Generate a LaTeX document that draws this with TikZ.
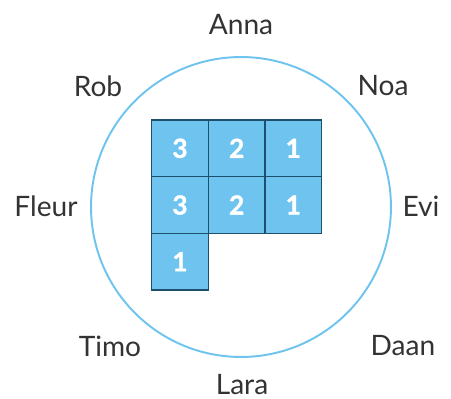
\documentclass[tikz,border=0pt]{standalone}
\usepackage{fontspec}
\setmainfont{Lato}
\newfontfamily\cellfont[FakeBold=1.2]{Lato}
\usepackage{xcolor}
\usepackage{tikz}
\usetikzlibrary{positioning}
\definecolor{ringblue}{HTML}{6EC4EE}
\definecolor{cellblue}{HTML}{6EC4EE}
\definecolor{celledge}{HTML}{1D4F6C}
\definecolor{namegray}{HTML}{333333}
\tikzset{
  kidname/.style={font=\fontsize{16}{18}\selectfont, text=namegray, inner sep=0pt},
  cell/.style={draw=celledge, fill=cellblue, line width=0.8pt, minimum size=1.134cm,
    inner sep=0pt, outer sep=0pt, font=\fontsize{15}{17}\cellfont\bfseries, text=white}
}

\begin{document}
\begin{tikzpicture}[x=0.02cm, y=-0.02cm]
\useasboundingbox (0,0) rectangle (451,399);
\node[draw=ringblue, line width=1.1pt, circle, minimum size=6cm, inner sep=0pt] (ring) at (241,207) {};
% names round the circle
\node[kidname] (anna)  at (241,25)  {Anna};
\node[kidname] (noa)   at (383,86)  {Noa};
\node[kidname] (evi)   at (421,206) {Evi};
\node[kidname] (daan)  at (403,346) {Daan};
\node[kidname] (lara)  at (242,385) {Lara};
\node[kidname] (timo)  at (110,346) {Timo};
\node[kidname] (fleur) at (46,206)  {Fleur};
\node[kidname] (rob)   at (98,86)   {Rob};
% grid of cells
\node[cell] (c11) at (180.0,148.3) {3};
\node[cell] (c12) at (236.7,148.3) {2};
\node[cell] (c13) at (293.3,148.3) {1};
\node[cell] (c21) at (180.0,205.0) {3};
\node[cell] (c22) at (236.7,205.0) {2};
\node[cell] (c23) at (293.3,205.0) {1};
\node[cell] (c31) at (180.0,261.7) {1};
\end{tikzpicture}
\end{document}
